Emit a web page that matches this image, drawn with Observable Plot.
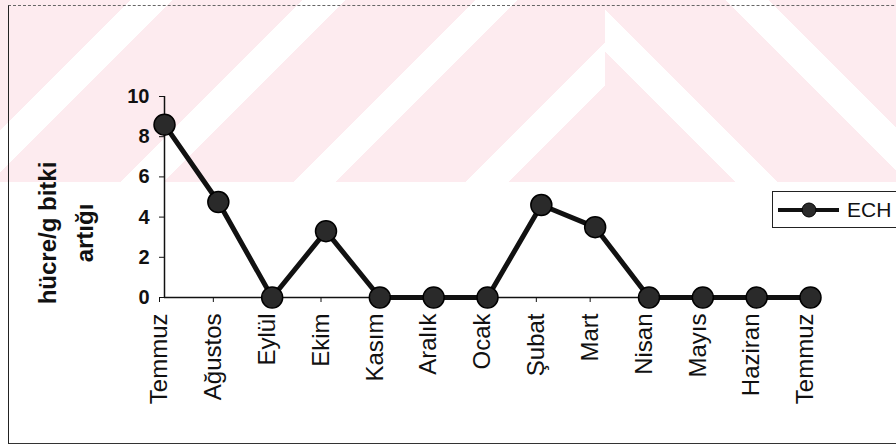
<!DOCTYPE html>
<html>
<head>
<meta charset="utf-8">
<script src="https://cdn.jsdelivr.net/npm/d3@7"></script>
<script src="https://cdn.jsdelivr.net/npm/@observablehq/plot@0.6"></script>
<style>
  body { margin: 0; background: #fff; }
  #wrap { position: relative; width: 896px; height: 445px; overflow: hidden; font-family: "Liberation Sans", Arial, sans-serif; background: #fff; }
  #wmL { position: absolute; left: 0; top: 0; width: 605px; height: 182px;
         background: repeating-linear-gradient(135deg, #fdebef 0 92px, #ffffff 92px 122px); }
  #wmR { position: absolute; left: 605px; top: 0; width: 291px; height: 182px;
         background: repeating-linear-gradient(45deg, #fdebef 0 92px, #ffffff 92px 122px); }
  #frame { position: absolute; left: 8px; top: 5px; width: 1000px; height: 437px;
           border-left: 1.5px solid #222; border-bottom: 1.5px solid #333; border-top: 1px dashed #666; }
  #chart { position: absolute; left: 0; top: 0; }
  #legend { position: absolute; left: 772px; top: 191px; width: 140px; height: 35px;
            border: 1.5px solid #222; background: #fff; display: flex; align-items: center; }
  #legend span { font-size: 21px; color: #111; margin-left: 4px; }
</style>
</head>
<body>
<div id="wrap">
  <div id="wmL"></div>
  <div id="wmR"></div>
  <div id="frame"></div>
  <div id="chart"></div>
  <div id="legend"></div>
</div>
<script>
const months = ["Temmuz","Ağustos","Eylül","Ekim","Kasım","Aralık","Ocak","Şubat","Mart","Nisan","Mayıs","Haziran","Temmuz"];
const ech = [8.6, 4.75, 0, 3.3, 0, 0, 0, 4.6, 3.5, 0, 0, 0, 0];
const yTicks = [0, 2, 4, 6, 8, 10];
const seriesName = "ECH";
const yTitle = "hücre/g bitki\nartığı";

const data = months.map((m, i) => ({i, month: m, v: ech[i]}));

const chart = Plot.plot({
  width: 896,
  height: 445,
  marginLeft: 164,
  marginRight: 86,
  marginTop: 96,
  marginBottom: 148,
  style: {background: "transparent", fontFamily: "'Liberation Sans', Arial, sans-serif", color: "#111"},
  x: {domain: [0, months.length - 1], axis: null},
  y: {domain: [0, 10], axis: null},
  marks: [
    Plot.ruleX([0], {stroke: "#111", strokeWidth: 1.5}),
    Plot.ruleY([0], {stroke: "#111", strokeWidth: 1.5}),
    Plot.axisY({ticks: yTicks, tickSize: 5, tickPadding: 10, fontSize: 20, fontWeight: "bold", label: null, stroke: "#111"}),
    Plot.axisX({ticks: d3.range(months.length), tickFormat: i => months[i], tickRotate: -90, tickSize: 5, tickPadding: 11, fontSize: 24, label: null, stroke: "#111", dx: -5}),
    Plot.line(data, {x: "i", y: "v", stroke: "#111", strokeWidth: 5}),
    Plot.dot(data, {x: "i", y: "v", r: 10.5, fill: "#2a2a2a", stroke: "#000", strokeWidth: 1.5}),
    Plot.text([yTitle], {text: d => d, frameAnchor: "left", textAnchor: "middle", rotate: -90, dx: -102, dy: 36, fontSize: 24, fontWeight: "bold", lineHeight: 1.55, lineAnchor: "middle", fill: "#111"})
  ]
});
document.getElementById("chart").appendChild(chart);

// legend
const leg = document.getElementById("legend");
const ns = "http://www.w3.org/2000/svg";
const ls = document.createElementNS(ns, "svg");
ls.setAttribute("width", 70); ls.setAttribute("height", 34);
const ln = document.createElementNS(ns, "line");
ln.setAttribute("x1", 5); ln.setAttribute("x2", 66); ln.setAttribute("y1", 17); ln.setAttribute("y2", 17);
ln.setAttribute("stroke", "#111"); ln.setAttribute("stroke-width", 4);
const c = document.createElementNS(ns, "circle");
c.setAttribute("cx", 36); c.setAttribute("cy", 17); c.setAttribute("r", 7);
c.setAttribute("fill", "#2a2a2a"); c.setAttribute("stroke", "#000");
ls.appendChild(ln); ls.appendChild(c);
leg.appendChild(ls);
const sp = document.createElement("span");
sp.textContent = seriesName;
leg.appendChild(sp);
</script>
</body>
</html>
